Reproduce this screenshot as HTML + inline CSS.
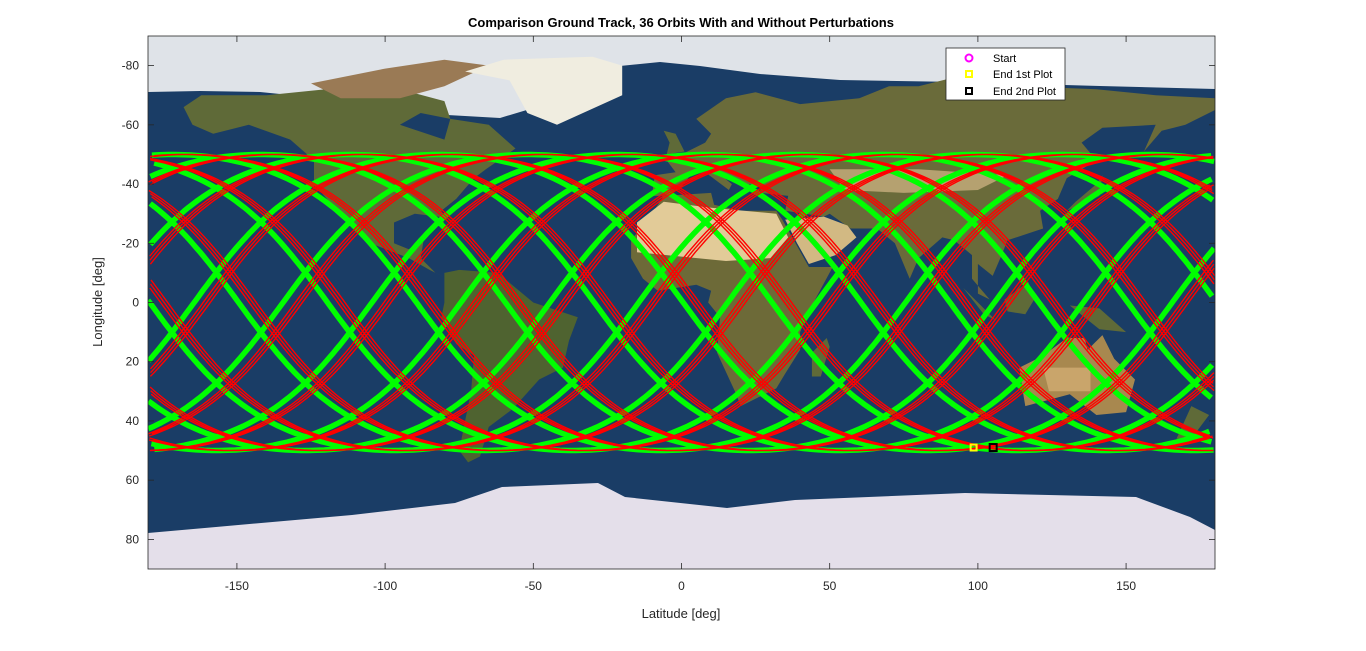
<!DOCTYPE html>
<html><head><meta charset="utf-8">
<style>
html,body{margin:0;padding:0;background:#fff;}
svg{display:block;font-family:"Liberation Sans",sans-serif;}
</style></head>
<body>
<svg id="chart" width="1366" height="651" viewBox="0 0 1366 651">
  <rect x="0" y="0" width="1366" height="651" fill="#ffffff"/>
  <defs><clipPath id="plotclip"><rect x="148" y="36" width="1067" height="533"/></clipPath></defs>
  <g id="map" clip-path="url(#plotclip)">
    <rect x="148" y="36" width="1067" height="533" fill="#1a3d66"/>
  </g>
  <g id="tracks" clip-path="url(#plotclip)"></g>
  <g id="markers"></g>
  <rect x="148" y="36" width="1067" height="533" fill="none" stroke="#262626" stroke-width="0.8"/>
  <g id="axes"></g>
  <text x="681" y="27" text-anchor="middle" font-size="13" font-weight="bold" fill="#000">Comparison Ground Track, 36 Orbits With and Without Perturbations</text>
  <text x="681" y="618" text-anchor="middle" font-size="13" fill="#262626">Latitude [deg]</text>
  <text x="102" y="302" text-anchor="middle" font-size="13" fill="#262626" transform="rotate(-90 102 302)">Longitude [deg]</text>
  <g>
    <rect x="946" y="48" width="119" height="52" fill="#fff" stroke="#262626" stroke-width="0.8"/>
    <g>
      <circle cx="969" cy="58" r="3.5" fill="none" stroke="#ff00ff" stroke-width="2"/>
      <text x="993" y="62" font-size="11" fill="#000">Start</text>
    </g>
    <g>
      <rect x="966" y="71" width="6" height="6" fill="none" stroke="#ffff00" stroke-width="2"/>
      <text x="993" y="78" font-size="11" fill="#000">End 1st Plot</text>
    </g>
    <g>
      <rect x="966" y="88" width="6" height="6" fill="none" stroke="#000" stroke-width="2"/>
      <text x="993" y="95" font-size="11" fill="#000">End 2nd Plot</text>
    </g>
  </g>
</svg>
<script>
// ---- chart data ----
const xTicks = [-150,-100,-50,0,50,100,150];
const yTicks = [-80,-60,-40,-20,0,20,40,60,80];
const orbitCount = [36];
const orbitPeriodHours = [2];
const inclinationDeg = [50];
const startArgLatDeg = [80];
const startNodeLonDeg = [23.9];
const perturbOffsetDeg = [3];
const perturbDriftDegPerHour = [0.05];

const NS = "http://www.w3.org/2000/svg";
const X0=148, X1=1215, Y0=36, Y1=569;
function xs(lon){ return X0 + (lon+180)/360*(X1-X0); }
function ys(v){ return Y0 + (v+90)/180*(Y1-Y0); }
function mk(tag, attrs, parent){ const e=document.createElementNS(NS,tag); for(const k in attrs) e.setAttribute(k,attrs[k]); parent.appendChild(e); return e; }

// ---- map (background image approximation) ----
const map = document.getElementById('map');
function geoPoly(pts, fill, name){
  const p = pts.map(q=>xs(q[0]).toFixed(1)+','+ys(-q[1]).toFixed(1)).join(' ');
  const el = mk('polygon',{points:p,fill:fill},map);
  
  
}
function pxPoly(pts, fill, name){
  const el = mk('polygon',{points:pts.map(q=>q.join(',')).join(' '),fill:fill},map);
  
  
}
const LAND='#5f6a38';
pxPoly([[148,36],[1215,36],[1215,89],[1100,86],[960,82],[840,80],[760,74],[700,66],[660,62],[620,66],[600,80],[560,100],[500,118],[430,114],[380,104],[320,98],[260,92],[200,91],[148,92]],'#dfe3e8','arctic-ice');
geoPoly([[-168,66],[-162,70],[-140,70],[-120,72],[-95,72],[-80,68],[-78,62],[-65,60],[-56,52],[-66,45],[-70,42],[-76,35],[-81,31],[-80,26],[-82,29],[-90,30],[-97,27],[-97,20],[-92,18],[-87,21],[-88,15],[-83,10],[-79,8],[-85,11],[-92,15],[-105,20],[-110,24],[-117,32],[-124,40],[-124,48],[-132,55],[-146,60],[-158,57],[-165,60]],LAND,'north-america');
geoPoly([[-95,60],[-80,55],[-78,62],[-88,64]],'#1a3d66','hudson-bay');
geoPoly([[-125,74],[-100,79],[-80,82],[-65,80],[-80,73],[-95,69],[-115,69]],'#9a7a55','arctic-islands');
geoPoly([[-73,78],[-60,82],[-30,83],[-20,80],[-20,70],[-42,60],[-52,64],[-58,75]],'#f0ede0','greenland');
geoPoly([[-80,10],[-75,11],[-62,10],[-50,0],[-35,-5],[-38,-13],[-40,-22],[-48,-26],[-57,-36],[-65,-42],[-68,-52],[-72,-54],[-75,-50],[-73,-40],[-71,-30],[-70,-18],[-76,-14],[-81,-5],[-80,0]],'#4f6330','south-america');
geoPoly([[-10,36],[-9,43],[-2,44],[-5,48],[2,51],[8,54],[10,57],[5,62],[15,69],[25,71],[40,67],[60,69],[70,73],[80,73],[100,78],[115,73],[140,72],[160,70],[180,69],[180,65],[170,60],[162,58],[156,51],[160,60],[142,59],[135,54],[140,48],[130,42],[127,35],[121,31],[122,25],[110,21],[108,16],[105,9],[100,13],[100,3],[104,1],[98,8],[98,16],[92,21],[88,22],[80,15],[77,8],[72,20],[66,25],[57,25],[50,30],[48,29],[35,31],[36,36],[27,37],[26,40],[23,40],[22,37],[20,40],[12,44],[17,40],[16,38],[8,44],[3,43],[0,39],[-5,36]],'#6a6b3a','eurasia');
geoPoly([[-17,15],[-17,21],[-10,30],[-6,36],[10,37],[11,33],[20,31],[32,31],[34,28],[43,12],[51,12],[44,-1],[40,-10],[40,-16],[35,-24],[32,-29],[20,-35],[18,-30],[12,-17],[13,-5],[9,0],[10,4],[5,6],[-8,4],[-13,8]],'#6d6a38','africa');
geoPoly([[35,28],[48,29],[56,26],[59,22],[52,16],[43,13],[39,20]],'#d2b983','arabia');
geoPoly([[-15,27],[-6,34],[10,32],[32,30],[36,22],[30,15],[15,14],[-15,17]],'#e2cb98','sahara');
geoPoly([[50,45],[80,45],[110,43],[100,38],[75,37],[55,38]],'#b5a170','central-asia');
geoPoly([[44,-25],[47,-25],[50,-15],[49,-12],[44,-17]],LAND,'madagascar');
geoPoly([[114,-22],[122,-18],[130,-12],[136,-12],[137,-16],[142,-11],[146,-19],[153,-26],[150,-37],[140,-38],[131,-31],[116,-35],[115,-29]],'#a8884f','australia');
geoPoly([[122,-22],[138,-22],[138,-30],[124,-30]],'#c9a56b','australia-interior');
geoPoly([[109,1],[117,7],[119,1],[116,-4],[110,-3]],LAND,'borneo');
geoPoly([[95,5],[106,-6],[102,-4]],LAND,'sumatra');
geoPoly([[131,-1],[141,-2],[150,-10],[141,-9]],LAND,'new-guinea');
geoPoly([[130,31],[141,36],[142,43],[140,40],[133,34]],LAND,'japan');
geoPoly([[-5,50],[1,51],[-2,57],[-6,58],[-4,54]],LAND,'britain');
geoPoly([[172,-35],[178,-38],[172,-46],[167,-46]],LAND,'new-zealand');
pxPoly([[148,533],[216,527],[352,515],[455,503],[502,487],[598,483],[625,497],[727,508],[795,500],[965,493],[1136,497],[1190,517],[1215,530],[1215,569],[148,569]],'#e4dfea','antarctica');

// ---- ground tracks ----
const tracks = document.getElementById('tracks');
function buildTrack(offset, drift){
  const inc = inclinationDeg[0]*Math.PI/180;
  const T = orbitPeriodHours[0], N = orbitCount[0];
  const total = T*N, dt = 0.01;
  const segs=[]; let cur=[]; let prev=null;
  for(let t=0;t<=total+1e-9;t+=dt){
    const u = (startArgLatDeg[0] + 360*t/T)*Math.PI/180;
    const v = Math.asin(Math.sin(inc)*Math.sin(u))*180/Math.PI;
    let lon = startNodeLonDeg[0] + Math.atan2(Math.cos(inc)*Math.sin(u), Math.cos(u))*180/Math.PI - 15*t + offset + drift*t;
    lon = ((lon+180)%360+360)%360-180;
    if(prev!==null && Math.abs(lon-prev)>180){ segs.push(cur); cur=[]; }
    cur.push([xs(lon),ys(v)]); prev=lon;
  }
  segs.push(cur);
  return segs;
}
function drawTrack(segs, color, w, name){
  const d = segs.map(s=>'M'+s.map(p=>p[0].toFixed(1)+','+p[1].toFixed(1)).join('L')).join('');
  const el = mk('path',{d:d,fill:'none',stroke:color,'stroke-width':w,'stroke-linejoin':'round'},tracks);
  
  
  return segs;
}
const g = drawTrack(buildTrack(0,0),'#00ff00',5.5,'track-unperturbed');
const r = drawTrack(buildTrack(perturbOffsetDeg[0],perturbDriftDegPerHour[0]),'#ff0000',1.4,'track-perturbed');

const mg = document.getElementById('markers');
const gs = g[0][0], ge = g[g.length-1][g[g.length-1].length-1], re = r[r.length-1][r[r.length-1].length-1];
let m = mk('circle',{cx:gs[0],cy:gs[1],r:3,fill:'none',stroke:'#ff00ff','stroke-width':1.5},mg);


m = mk('rect',{x:ge[0]-3,y:ge[1]-3,width:6,height:6,fill:'none',stroke:'#ffff00','stroke-width':2},mg);


m = mk('rect',{x:re[0]-3.5,y:re[1]-3.5,width:7,height:7,fill:'none',stroke:'#000','stroke-width':2},mg);



// ---- axes ----
const ax = document.getElementById('axes');
xTicks.forEach(v=>{
  const x = xs(v);
  let t = mk('line',{x1:x,y1:Y1,x2:x,y2:Y1-6,stroke:'#262626','stroke-width':0.8},ax);
  
  
  t = mk('line',{x1:x,y1:Y0,x2:x,y2:Y0+6,stroke:'#262626','stroke-width':0.8},ax);
  
  
  const tx = mk('text',{x:x,y:590,'text-anchor':'middle','font-size':12,fill:'#262626'},ax);
  tx.textContent = v;
  
  
});
yTicks.forEach(v=>{
  const y = ys(v);
  let t = mk('line',{x1:X0,y1:y,x2:X0+6,y2:y,stroke:'#262626','stroke-width':0.8},ax);
  
  
  t = mk('line',{x1:X1,y1:y,x2:X1-6,y2:y,stroke:'#262626','stroke-width':0.8},ax);
  
  
  const tx = mk('text',{x:139,y:y+4,'text-anchor':'end','font-size':12,fill:'#262626'},ax);
  tx.textContent = v;
  
  
});
</script>
</body></html>
